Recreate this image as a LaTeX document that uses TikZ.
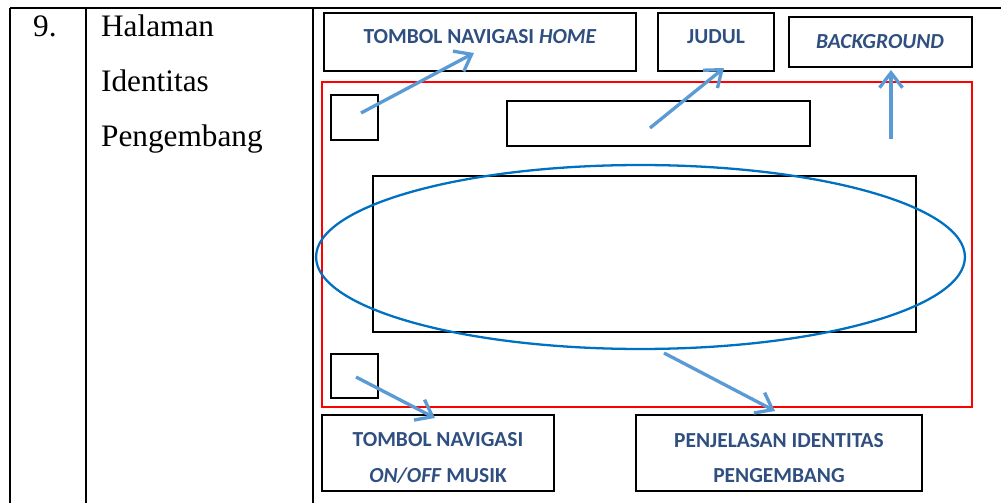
\documentclass[tikz,border=0pt]{standalone}
\usepackage{fontspec}
\setmainfont{Liberation Serif}
\newfontfamily\labelfont{Carlito}
\usetikzlibrary{arrows.meta, fit, shapes.geometric}

\definecolor{panahbiru}{RGB}{91,155,213}
\definecolor{elipsbiru}{RGB}{0,112,192}
\definecolor{teksbiru}{RGB}{47,79,128}

\begin{document}
\begin{tikzpicture}[x=0.02cm, y=-0.02cm, line width=1.3pt,
  kotak/.style={draw, inner sep=0pt},
  tulisan/.style={font=\labelfont\bfseries\fontsize{12.2}{20.4}\selectfont,
    text=teksbiru, align=center, inner sep=0pt},
  panah/.style={draw=panahbiru, line width=1.9pt,
    -{Straight Barb[length=3mm, width=4.6mm]}}]
  \useasboundingbox (0,0) rectangle (1001,503);
  % garis tabel
  \draw (10,8) -- (1001,8);
  \draw (10,8) -- (10,503);
  \draw (86,8) -- (86,503);
  \draw (313,8) -- (313,503);
  % isi kolom nomor dan nama halaman
  \begin{scope}[font=\fontsize{17.8}{20}\selectfont]
    \node[anchor=base west, inner sep=0pt] (nomor) at (32,37) {9.};
    \node[anchor=base west, inner sep=0pt] (nama1) at (100,37) {Halaman};
    \node[anchor=base west, inner sep=0pt] (nama2) at (100,92) {Identitas};
    \node[anchor=base west, inner sep=0pt] (nama3) at (100,147) {Pengembang};
  \end{scope}
  % kotak keterangan atas
  \node[kotak, fit={(324,13) (636,71)}] (homebox) {};
  \node[kotak, fit={(658,13) (774,71)}] (judulbox) {};
  \node[kotak, fit={(789,17) (972,67)}] (bgbox) {};
  \node[tulisan, anchor=base] (hometeks) at (480,44) {TOMBOL NAVIGASI \textit{HOME}};
  \node[tulisan, anchor=base] (judulteks) at (716,44) {JUDUL};
  \node[tulisan, anchor=base] (bgteks) at (880,49) {\textit{BACKGROUND}};
  % layar
  \node[kotak, draw=red, fit={(322,82) (972,407)}] (layar) {};
  \node[kotak, fit={(331,95) (378,140)}] (tombolatas) {};
  \node[kotak, fit={(507,101) (810,146)}] (judulbar) {};
  \node[kotak, fit={(373,176) (916,332)}] (isi) {};
  \node[kotak, fit={(331,354) (378,398)}] (tombolbawah) {};
  \node[ellipse, draw=elipsbiru, inner sep=0pt, minimum width=12.98cm,
    minimum height=3.68cm] (elips) at (640.5,257) {};
  % kotak keterangan bawah
  \node[kotak, fit={(322,415) (554,491)}] (musikbox) {};
  \node[kotak, fit={(636,415) (922,491)}] (devbox) {};
  \node[tulisan] (musikteks) at (438,458) {TOMBOL NAVIGASI\\\textit{ON/OFF} MUSIK};
  \node[tulisan] (devteks) at (779,458) {PENJELASAN IDENTITAS\\PENGEMBANG};
  % panah
  \coordinate (a1) at (361,113);  \coordinate (b1) at (474,53);
  \coordinate (a2) at (650,128);  \coordinate (b2) at (724,68);
  \coordinate (a3) at (891,139);  \coordinate (b3) at (891,70);
  \coordinate (a4) at (356,377);  \coordinate (b4) at (435,418);
  \coordinate (a5) at (664,353);  \coordinate (b5) at (775,411);
  \draw[panah] (a1) -- (b1);
  \draw[panah] (a2) -- (b2);
  \draw[panah] (a3) -- (b3);
  \draw[panah] (a4) -- (b4);
  \draw[panah] (a5) -- (b5);
\end{tikzpicture}
\end{document}
